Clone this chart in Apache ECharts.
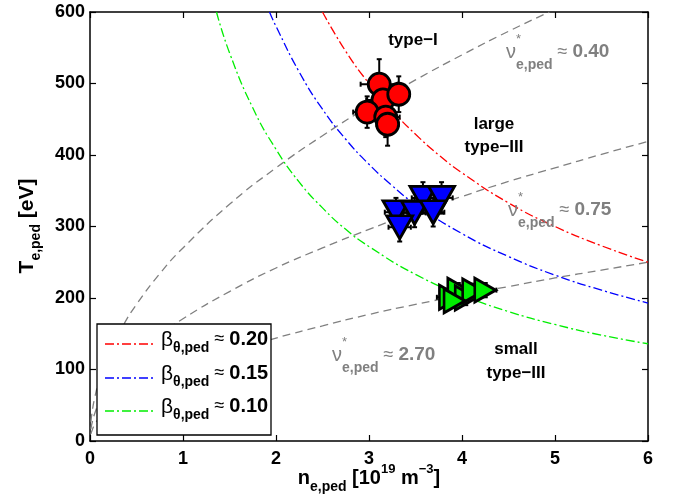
<!DOCTYPE html>
<html>
<head>
<meta charset="utf-8">
<script src="https://cdn.jsdelivr.net/npm/echarts@6/dist/echarts.min.js"></script>
<style>
  html, body { margin: 0; padding: 0; background: #fff; }
  #chart { width: 673px; height: 497px; }
</style>
</head>
<body>
<div id="chart"></div>
<script>
// Axis ticks
const xTicks = [0, 1, 2, 3, 4, 5, 6];
const yTicks = [0, 100, 200, 300, 400, 500, 600];

// Constant-beta curves (n_e,ped [1e19 m^-3], T_e,ped [eV])
const betaLabels = ['0.20', '0.15', '0.10'];
const betaColors = ['#ff0000', '#0000ff', '#00ee00'];
const beta020 = [[2.5,600],[2.75,545],[3,500],[3.25,462],[3.5,429],[3.75,400],[4,375],[4.5,333],[5,300],[5.5,273],[6,250]];
const beta015 = [[1.93,600],[2,580],[2.25,516],[2.5,464],[2.75,422],[3,387],[3.25,357],[3.5,331],[4,290],[4.5,258],[5,232],[5.5,211],[6,193]];
const beta010 = [[1.36,600],[1.5,543],[1.75,466],[2,408],[2.25,362],[2.5,326],[2.75,296],[3,272],[3.5,233],[4,204],[4.5,181],[5,163],[5.5,148],[6,136]];

// Constant-collisionality curves
const nuLabels = ['0.40', '0.75', '2.70'];
const nu040 = [[0.01,27],[0.02,38],[0.05,60],[0.1,85],[0.2,121],[0.35,160],[0.5,191],[0.75,234],[1,270],[1.5,331],[2,382],[2.5,427],[3,468],[3.5,505],[4,540],[4.5,573],[4.94,600]];
const nu075 = [[0.01,17],[0.02,24],[0.05,38],[0.1,54],[0.2,76],[0.35,101],[0.5,121],[0.75,148],[1,171],[1.5,209],[2,242],[2.5,270],[3,296],[3.5,320],[4,342],[4.5,363],[5,382],[5.5,401],[6,419]];
const nu270 = [[0.01,10],[0.02,14],[0.05,23],[0.1,32],[0.2,46],[0.35,60],[0.5,72],[0.75,88],[1,102],[1.5,125],[2,144],[2.5,161],[3,177],[3.5,191],[4,204],[4.5,216],[5,228],[5.5,239],[6,250]];

// Measured pedestals by ELM type: n, T, and their error bars
const typeIN   = [3.11, 3.15, 3.32, 2.98, 3.18, 3.20];
const typeIT   = [499, 477, 485, 460, 453, 443];
const typeIErrN = [0.2, 0.18, 0.12, 0.15, 0.15, 0.12];
const typeIErrT = [35, 25, 25, 22, 28, 30];

const largeN   = [3.58, 3.78, 3.29, 3.49, 3.69, 3.33];
const largeT   = [340, 340, 320, 319, 320, 299];
const largeErrN = [0.12, 0.12, 0.12, 0.12, 0.12, 0.12];
const largeErrT = [22, 22, 20, 20, 20, 20];

const smallN   = [3.87, 3.96, 4.04, 4.12, 4.25, 3.92];
const smallT   = [201, 211, 200, 210, 211, 196];
const smallErrN = [0.14, 0.12, 0.12, 0.12, 0.12, 0.14];
const smallErrT = [10, 10, 10, 10, 10, 10];

const regionLabels = ['type\u2212I', 'large', 'type\u2212III', 'small', 'type\u2212III'];

const FONT = '"Liberation Sans", Arial, Helvetica, sans-serif';
const measureCtx = document.createElement('canvas').getContext('2d');
function textWidth(t, size, bold) {
  measureCtx.font = (bold ? 'bold ' : '') + size + 'px ' + FONT;
  return measureCtx.measureText(t).width;
}

// Lay out a run of text pieces (with sub/superscripts) as a graphic group
function compositeText(pieces, opts) {
  let cursor = 0, prevStart = 0, maxEnd = 0;
  const z = opts.z || 100;
  const children = [];
  pieces.forEach(p => {
    const start = p.stack ? prevStart : cursor;
    const w = textWidth(p.t, p.size, p.bold);
    children.push({
      type: 'text', x: start, y: p.dy || 0, z: z,
      style: {
        text: p.t, fill: opts.color,
        font: (p.bold ? 'bold ' : '') + p.size + 'px ' + FONT,
        align: 'left', verticalAlign: 'middle'
      }
    });
    prevStart = start;
    cursor = Math.max(cursor, start + w);
    maxEnd = Math.max(maxEnd, start + w);
  });
  const shift = opts.align === 'center' ? -maxEnd / 2 : 0;
  children.forEach(c => { c.x += shift; });
  return {
    type: 'group', x: opts.x, y: opts.y, rotation: opts.rotation || 0,
    z: z, children: children
  };
}

function errRows(ns, ts, en, et) {
  return ns.map((n, i) => [n, ts[i], en[i], et[i]]);
}
function pts(ns, ts) { return ns.map((n, i) => [n, ts[i]]); }

function renderErr(params, api) {
  const n = api.value(0), t = api.value(1), en = api.value(2), et = api.value(3);
  const top = api.coord([n, t + et]), bot = api.coord([n, t - et]);
  const l = api.coord([n - en, t]), r = api.coord([n + en, t]);
  const cap = 2.5;
  const st = { stroke: '#000', lineWidth: 2 };
  const ln = (x1, y1, x2, y2) => ({ type: 'line', shape: { x1, y1, x2, y2 }, style: st });
  return {
    type: 'group',
    children: [
      ln(top[0], top[1], bot[0], bot[1]),
      ln(l[0], l[1], r[0], r[1]),
      ln(top[0] - cap, top[1], top[0] + cap, top[1]),
      ln(bot[0] - cap, bot[1], bot[0] + cap, bot[1]),
      ln(l[0], l[1] - cap, l[0], l[1] + cap),
      ln(r[0], r[1] - cap, r[0], r[1] + cap)
    ]
  };
}

const dashDot = [9, 3, 2, 3];
function betaLine(data, color) {
  return {
    type: 'line', data: data, showSymbol: false, smooth: 0.5,
    lineStyle: { color: color, width: 1.3, type: dashDot }, z: 3, silent: true
  };
}
function nuLine(data) {
  return {
    type: 'line', data: data, showSymbol: false, smooth: 0.5,
    lineStyle: { color: '#808080', width: 1.3, type: [8, 5] }, z: 2, silent: true
  };
}

const axisCommon = {
  axisLine: { show: true, onZero: false, lineStyle: { color: '#000', width: 1.5 } },
  axisTick: { show: true, inside: true, length: 6, lineStyle: { color: '#000', width: 1.2 } },
  splitLine: { show: false }
};
const labelStyle = { color: '#000', fontSize: 18, fontWeight: 'bold', fontFamily: FONT };

const option = {
  animation: false,
  backgroundColor: '#fff',
  grid: { left: 90, right: 25, top: 12, bottom: 56 },
  xAxis: [
    Object.assign({ type: 'value', min: xTicks[0], max: xTicks[xTicks.length - 1], interval: 1, position: 'bottom',
      axisLabel: Object.assign({ margin: 9 }, labelStyle) }, axisCommon),
    Object.assign({ type: 'value', min: xTicks[0], max: xTicks[xTicks.length - 1], interval: 1, position: 'top',
      axisLabel: { show: false } }, axisCommon)
  ],
  yAxis: [
    Object.assign({ type: 'value', min: yTicks[0], max: yTicks[yTicks.length - 1], interval: 100, position: 'left',
      axisLabel: Object.assign({ margin: 5 }, labelStyle) }, axisCommon),
    Object.assign({ type: 'value', min: yTicks[0], max: yTicks[yTicks.length - 1], interval: 100, position: 'right',
      axisLabel: { show: false } }, axisCommon)
  ],
  series: [
    nuLine(nu040), nuLine(nu075), nuLine(nu270),
    betaLine(beta020, betaColors[0]), betaLine(beta015, betaColors[1]), betaLine(beta010, betaColors[2]),
    { type: 'custom', renderItem: renderErr, data: errRows(typeIN, typeIT, typeIErrN, typeIErrT), z: 4, silent: true },
    { type: 'custom', renderItem: renderErr, data: errRows(largeN, largeT, largeErrN, largeErrT), z: 4, silent: true },
    { type: 'custom', renderItem: renderErr, data: errRows(smallN, smallT, smallErrN, smallErrT), z: 4, silent: true },
    { type: 'scatter', data: pts(typeIN, typeIT), symbol: 'circle', symbolSize: 22, z: 5, silent: true,
      itemStyle: { color: '#ff0000', borderColor: '#000', borderWidth: 2.8, opacity: 1 } },
    { type: 'scatter', data: pts(largeN, largeT), symbol: 'triangle', symbolSize: [26, 23], symbolRotate: 180, z: 5, silent: true,
      itemStyle: { color: '#0000ff', borderColor: '#000', borderWidth: 2.8, opacity: 1 } },
    { type: 'scatter', data: pts(smallN, smallT), symbol: 'triangle', symbolSize: [24, 21], symbolRotate: -90, z: 5, silent: true,
      itemStyle: { color: '#00ee00', borderColor: '#000', borderWidth: 2.8, opacity: 1 } }
  ]
};

// Axis titles, region labels, collisionality labels and the legend box
const black = '#000', gray = '#808080';
const graphics = [];

graphics.push(compositeText([
  { t: 'n', size: 20, bold: true },
  { t: 'e,ped', size: 14, bold: true, dy: 9 },
  { t: ' [10', size: 20, bold: true },
  { t: '19', size: 13, bold: true, dy: -9 },
  { t: ' m', size: 20, bold: true },
  { t: '\u22123', size: 13, bold: true, dy: -9 },
  { t: ']', size: 20, bold: true }
], { x: 369, y: 478, align: 'center', color: black }));

graphics.push(compositeText([
  { t: 'T', size: 21, bold: true },
  { t: 'e,ped', size: 14, bold: true, dy: 9 },
  { t: ' [eV]', size: 21, bold: true }
], { x: 27, y: 226, align: 'center', rotation: Math.PI / 2, color: black }));

const regionPos = [[413, 40], [494, 124], [494, 147], [516, 349], [516, 373]];
regionLabels.forEach((t, i) => {
  graphics.push({
    type: 'text', x: regionPos[i][0], y: regionPos[i][1], z: 100,
    style: { text: t, fill: black, font: 'bold 17px ' + FONT, align: 'center', verticalAlign: 'middle' }
  });
});

const nuPos = [[506, 52], [508, 210], [332, 355]];
nuLabels.forEach((v, i) => {
  graphics.push(compositeText([
    { t: '\u03bd', size: 20, bold: false },
    { t: '*', size: 13, bold: false, dy: -13 },
    { t: 'e,ped', size: 14, bold: true, dy: 13, stack: true },
    { t: ' \u2248 ', size: 18, bold: false },
    { t: v, size: 19, bold: true }
  ], { x: nuPos[i][0], y: nuPos[i][1], color: gray }));
});

// Legend
const legX = 97, legY = 324, legW = 174, legH = 111;
graphics.push({
  type: 'rect', z: 90,
  shape: { x: legX, y: legY, width: legW, height: legH },
  style: { fill: '#fff', stroke: '#000', lineWidth: 1.3 }
});
const rowY = [339, 373, 406];
betaLabels.forEach((v, i) => {
  graphics.push({
    type: 'line', z: 95,
    shape: { x1: 105, y1: rowY[i] + 5, x2: 155, y2: rowY[i] + 5 },
    style: { stroke: betaColors[i], lineWidth: 1.3, lineDash: dashDot }
  });
  graphics.push(compositeText([
    { t: '\u03b2', size: 21, bold: false, dy: 1 },
    { t: '\u03b8,ped', size: 14, bold: true, dy: 9 },
    { t: ' \u2248 ', size: 18, bold: false },
    { t: v, size: 20, bold: true }
  ], { x: 161, y: rowY[i], color: black, z: 110 }));
});

option.graphic = graphics;

const chart = echarts.init(document.getElementById('chart'), null, { renderer: 'canvas' });
chart.setOption(option);
</script>
</body>
</html>
